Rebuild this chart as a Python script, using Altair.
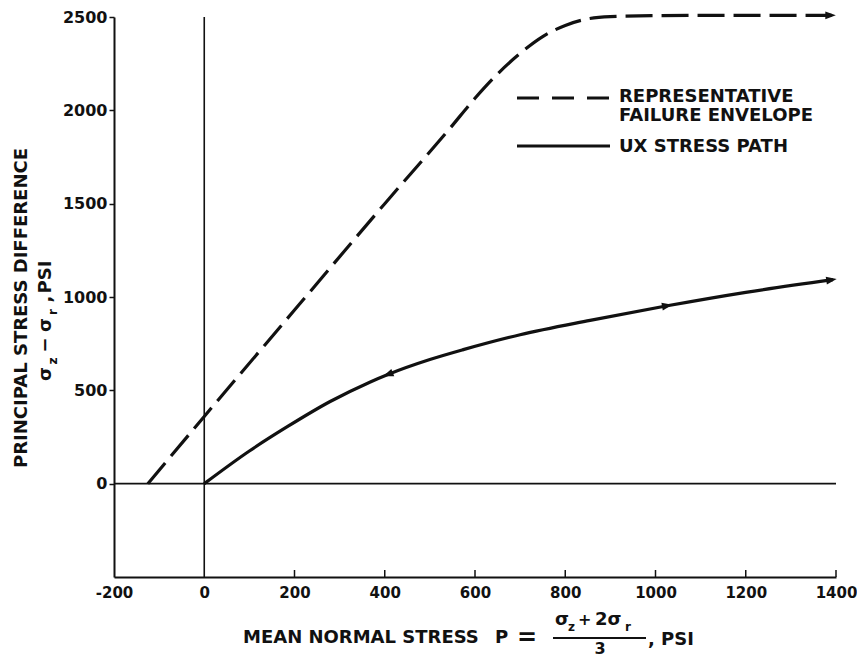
import math
import numpy as np
import pandas as pd
import altair as alt

# ---- data ----
envelope_x = [-125, 0, 200, 400, 545, 600, 650, 700, 750, 800, 850, 900, 1000, 1200, 1390]
envelope_y = [0, 360, 930, 1500, 1905, 2065, 2195, 2305, 2395, 2455, 2490, 2502, 2507, 2509, 2509]

path_x = [0, 100, 184, 279, 368, 407, 500, 574, 700, 855, 1026, 1200, 1393]
path_y = [0, 175, 305, 440, 545, 585, 665, 718, 798, 875, 953, 1025, 1093]

# arrowheads: (x, series, direction)
arrow_x = [407, 1026, 1390, 1388]
arrow_series = ["path", "path", "path", "envelope"]
arrow_dir = ["left", "right", "right", "right"]

x_ticks = [-200, 0, 200, 400, 600, 800, 1000, 1200, 1400]
y_ticks = [0, 500, 1000, 1500, 2000, 2500]
x_domain = [-200, 1400]
y_domain = [-500, 2500]

W, H = 722, 560
FONT = "DejaVu Sans"
INK = "#111111"
TS = 18  # title / legend font size

xs = alt.Scale(domain=x_domain, nice=False, zero=False)
ys = alt.Scale(domain=y_domain, nice=False, zero=False)

env_df = pd.DataFrame({"x": envelope_x, "y": envelope_y})
path_df = pd.DataFrame({"x": path_x, "y": path_y})

# arrow angles from local slope in pixel space
ratio = (H / (y_domain[1] - y_domain[0])) / (W / (x_domain[1] - x_domain[0]))
rows = []
for ax_, s, d in zip(arrow_x, arrow_series, arrow_dir):
    sx, sy = (path_x, path_y) if s == "path" else (envelope_x, envelope_y)
    ay = float(np.interp(ax_, sx, sy))
    h = 25
    hi = min(ax_ + h, sx[-1])
    slope = (np.interp(hi, sx, sy) - np.interp(ax_ - h, sx, sy)) / (hi - (ax_ - h))
    ang = math.degrees(math.atan(slope * ratio))
    rows.append({"x": ax_, "y": ay, "angle": (360 - ang) % 360, "dir": d})
arrow_df = pd.DataFrame(rows)

RIGHT = "M-1,-0.75L1,0L-1,0.75Z"
LEFT = "M1,-0.75L-1,0L1,0.75Z"

LBL = "'' + datum.value"

base_x = alt.X("x:Q", scale=xs,
               axis=alt.Axis(values=x_ticks, ticks=False, grid=False, title=None,
                             labelPadding=8, labelFontSize=15, labelFont=FONT,
                             labelFontWeight="bold", labelColor=INK, labelExpr=LBL,
                             domainColor=INK, domainWidth=2, labelFlush=False,
                             labelOverlap=False))
base_y = alt.Y("y:Q", scale=ys,
               axis=alt.Axis(values=y_ticks, tickSize=5, tickColor=INK, tickWidth=1.5,
                             grid=False, title=None, labelPadding=2, labelFontSize=16,
                             labelFont=FONT, labelFontWeight="bold", labelColor=INK,
                             labelExpr=LBL, domainColor=INK, domainWidth=2,
                             labelFlush=False, labelOverlap=False))

envelope = alt.Chart(env_df).mark_line(
    color=INK, strokeWidth=3.2, strokeDash=[27, 9], interpolate="monotone"
).encode(x=base_x, y=base_y, order=alt.Order("x:Q"))

stress = alt.Chart(path_df).mark_line(
    color=INK, strokeWidth=3.2, interpolate="monotone"
).encode(x=alt.X("x:Q", scale=xs), y=alt.Y("y:Q", scale=ys), order=alt.Order("x:Q"))

arrows_r = alt.Chart(arrow_df[arrow_df["dir"] == "right"]).mark_point(
    shape=RIGHT, filled=True, color=INK, opacity=1, size=110
).encode(x=alt.X("x:Q", scale=xs), y=alt.Y("y:Q", scale=ys),
         angle=alt.Angle("angle:Q", scale=None))
arrows_l = alt.Chart(arrow_df[arrow_df["dir"] == "left"]).mark_point(
    shape=LEFT, filled=True, color=INK, opacity=1, size=110
).encode(x=alt.X("x:Q", scale=xs), y=alt.Y("y:Q", scale=ys),
         angle=alt.Angle("angle:Q", scale=None))

# zero lines
zero_df = pd.DataFrame({"x": [0], "y": [0]})
vline = alt.Chart(zero_df).mark_rule(color=INK, strokeWidth=1.6).encode(
    x=alt.X("x:Q", scale=xs), y=alt.value(0), y2=alt.value(H))
hline = alt.Chart(zero_df).mark_rule(color=INK, strokeWidth=1.6).encode(
    y=alt.Y("y:Q", scale=ys), x=alt.value(0), x2=alt.value(W))

# inward x ticks
xt_df = pd.DataFrame({"x": [v for v in x_ticks if v > 0]})
xticks = alt.Chart(xt_df).mark_rule(color=INK, strokeWidth=1.5).encode(
    x=alt.X("x:Q", scale=xs), y=alt.value(H), y2=alt.value(H - 7))


def txt(text, x, y, size=TS, angle=0, align="left", baseline="middle"):
    kw = dict(fontSize=size, font=FONT, fontWeight="bold", color=INK,
              align=align, baseline=baseline)
    if angle:
        kw["angle"] = angle
    return alt.Chart(pd.DataFrame({"t": [text]})).mark_text(**kw).encode(
        text="t:N", x=alt.value(x), y=alt.value(y))


def seg(x1, x2, y, dash=None, width=3):
    kw = dict(color=INK, strokeWidth=width)
    if dash:
        kw["strokeDash"] = dash
    return alt.Chart(pd.DataFrame({"a": [0]})).mark_rule(**kw).encode(
        x=alt.value(x1), x2=alt.value(x2), y=alt.value(y))


OX, OY = 114, 17  # plot origin in page pixels


def P(x, y):
    return x - OX, y - OY


texts = []
# legend
lx1, ly1 = P(517, 98)
lx2, _ = P(610, 98)
texts.append(seg(lx1, lx2, ly1, dash=[22, 13]))
sx1, sy1 = P(517, 146)
texts.append(seg(sx1, lx2, sy1))
tx, ty = P(619, 97)
texts.append(txt("REPRESENTATIVE", tx, ty))
tx, ty = P(619, 116)
texts.append(txt("FAILURE ENVELOPE", tx, ty))
tx, ty = P(619, 147)
texts.append(txt("UX STRESS PATH", tx, ty))

# x title
tx, ty = P(243, 638)
texts.append(txt("MEAN NORMAL STRESS", tx, ty))
tx, ty = P(495, 638)
texts.append(txt("P", tx, ty))
tx, ty = P(527, 638)
texts.append(txt("=", tx, ty, size=24, align="center"))
tx, ty = P(555, 620)
texts.append(txt("σ", tx, ty))
tx, ty = P(568, 627)
texts.append(txt("z", tx, ty, size=12))
tx, ty = P(578, 620)
texts.append(txt("+", tx, ty, size=16))
tx, ty = P(595, 620)
texts.append(txt("2σ", tx, ty))
tx, ty = P(625, 627)
texts.append(txt("r", tx, ty, size=12))
bx1, by = P(553, 638)
bx2, _ = P(646, 638)
texts.append(seg(bx1, bx2, by, width=2))
tx, ty = P(600, 649)
texts.append(txt("3", tx, ty, size=16, align="center"))
tx, ty = P(648, 640)
texts.append(txt(", PSI", tx, ty))

# y title (rotated)
tx, ty = P(22, 308)
texts.append(txt("PRINCIPAL STRESS DIFFERENCE", tx, ty, angle=270, align="center"))
tx, ty = P(46, 374)
texts.append(txt("σ", tx, ty, angle=270, align="center"))
tx, ty = P(53, 361)
texts.append(txt("z", tx, ty, size=12, angle=270, align="center"))
tx, ty = P(46, 345)
texts.append(txt("−", tx, ty, angle=270, align="center"))
tx, ty = P(46, 325)
texts.append(txt("σ", tx, ty, angle=270, align="center"))
tx, ty = P(53, 312)
texts.append(txt("r", tx, ty, size=12, angle=270, align="center"))
tx, ty = P(46, 299)
texts.append(txt(",", tx, ty, angle=270, align="center"))
tx, ty = P(46, 277)
texts.append(txt("PSI", tx, ty, angle=270, align="center"))

chart = alt.layer(
    envelope, stress, vline, hline, xticks, arrows_r, arrows_l, *texts
).properties(
    width=W, height=H,
    padding={"left": OX, "top": OY, "right": 857 - OX - W, "bottom": 660 - OY - H},
    autosize=alt.AutoSizeParams(type="none"),
    background="white",
).configure_view(stroke=None)

chart.save("out.html", embed_options={"renderer": "svg", "actions": False})
